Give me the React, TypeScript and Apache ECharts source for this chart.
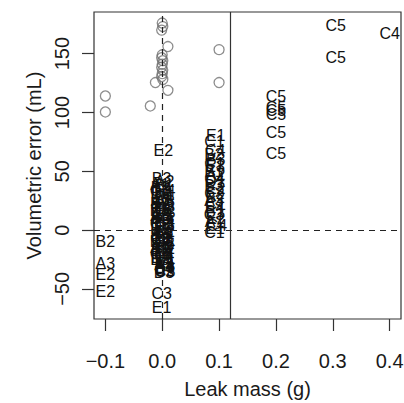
import React, { useEffect, useRef } from "react";
import * as echarts from "echarts";

const xTicks = [-0.1, 0, 0.1, 0.2, 0.3, 0.4];
const yTicks = [-50, 0, 50, 100, 150];
const xRange = [-0.12, 0.42];
const yRange = [-75.6, 185.4];
const thresholdX = 0.1235;

// hollow grey circles
const circleX = [-0.1, -0.1, -0.021, -0.012, 0.01, 0.01, 0, 0.001, -0.001, 0, -0.001, 0.001, 0, -0.001, 0.001, 0, -0.001, 0.001, 0.1, 0.1];
const circleY = [114, 100.4, 105.5, 125.4, 118.8, 156, 176, 173, 170, 149, 146.5, 144, 141, 138.5, 136, 133, 130.5, 128, 153.4, 125.4];

// text labels at x = -0.1
const leftNames = ["B2", "A3", "E2", "E2"];
const leftX = [-0.1, -0.1, -0.1, -0.1];
const leftY = [-10, -28, -38, -52];

// text labels around x = 0
const zeroNames = [
  "E2", "B3", "C3", "E1",
  "A1", "B2", "C1", "D2", "E3", "A2", "B1", "C4", "D1", "E4", "A3", "B3", "C2", "D3", "E1", "A4", "B4", "C3", "D4", "E2", "A1", "B2", "C1", "D2", "E3",
  "A2", "B1", "C4", "D1", "E4", "A3", "B3", "C2", "D3", "E1", "A4", "B4", "C3", "D4", "E2", "A1", "B2", "C1", "D2", "E3", "A2", "B1", "C4", "D1", "E4", "A3", "B3", "C2", "D3", "E1", "A4", "B4", "C3"
];
const zeroX = [
  0.002, -0.001, -0.001, -0.001,
  -0.004, -0.003, -0.004, -0.002, -0.004, -0.003, -0.004, -0.002, -0.004, -0.003, -0.004, -0.002, -0.004, -0.003, -0.004, -0.002, -0.004, -0.003, -0.004, -0.002, -0.004, -0.003, -0.004, -0.002, -0.004,
  0.004, 0.003, 0.005, 0.004, 0.003, 0.005, 0.004, 0.003, 0.005, 0.004, 0.003, 0.005, 0.004, 0.003, 0.005, 0.004, 0.003, 0.005, 0.004, 0.003, 0.005, 0.004, 0.003, 0.005, 0.004, 0.003, 0.005, 0.004, 0.003, 0.005, 0.004, 0.003, 0.005
];
const zeroY = [
  68, 44, -53.5, -66,
  39, 36, 33.5, 31, 27, 25, 22.5, 19, 17, 14, 12, 9.5, 6, 4, 1, -2, -4.5, -7, -10, -12, -15, -17.5, -20, -23, -25,
  41, 37.5, 34, 30, 28, 24, 21, 18.5, 15, 13, 10, 7, 5, 2, -1, -3, -6, -8.5, -11, -14, -16, -19, -21.5, -24, -27, -29, -32, -34.5, -36, -28, -30, -33, -35
];

// text labels around x = 0.1
const tenthNames = ["E1", "C1", "C4", "B2", "B3", "C1", "E3", "B1", "A2", "C4", "D1", "B3", "E2", "C2", "B2", "A3", "C1", "E4", "B1", "C3", "E2", "A1", "C4", "E1", "C1"];
const tenthX = [0.094, 0.092, 0.093, 0.091, 0.094, 0.092, 0.093, 0.091, 0.094, 0.092, 0.093, 0.091, 0.094, 0.092, 0.093, 0.091, 0.094, 0.092, 0.093, 0.091, 0.094, 0.092, 0.096, 0.093, 0.092];
const tenthY = [80.6, 75, 68, 64, 60, 57, 54, 50, 47, 44, 41, 38, 35, 31, 28, 25, 22, 19, 16, 13, 10, 7, 4, 1, -2];

// text labels on the right
const rightNames = ["C5", "C5", "C5", "C5", "C5", "C5", "C5", "C5", "C4"];
const rightX = [0.2, 0.2, 0.2, 0.2, 0.2, 0.2, 0.305, 0.305, 0.4];
const rightY = [113.7, 104.5, 101.5, 98.5, 82.6, 65, 174, 147, 167];

const FONT = "'Liberation Sans', Arial, Helvetica, sans-serif";

export default function App() {
  const ref = useRef<HTMLDivElement>(null);
  useEffect(() => {
    if (!ref.current) return;
    const chart = echarts.init(ref.current, null, { renderer: "svg" });
    const names = [...leftNames, ...zeroNames, ...tenthNames, ...rightNames];
    const xs = [...leftX, ...zeroX, ...tenthX, ...rightX];
    const ys = [...leftY, ...zeroY, ...tenthY, ...rightY];
    const labelData = xs.map((x, i) => [x, ys[i]]);
    const circleData = circleX.map((x, i) => [x, circleY[i]]);
    const fmt = (v: number, d: number) => (v < 0 ? "\u2212" : "") + Math.abs(v).toFixed(d);
    chart.setOption({
      animation: false,
      backgroundColor: "#ffffff",
      textStyle: { fontFamily: FONT },
      grid: {
        left: 94, top: 12, width: 307, height: 307,
        containLabel: false, outerBoundsMode: "none",
        show: true, borderColor: "#333", borderWidth: 1.2, backgroundColor: "transparent",
      },
      xAxis: {
        type: "value",
        position: "bottom",
        min: xRange[0],
        max: xRange[1],
        name: "Leak mass (g)",
        nameLocation: "middle",
        nameGap: 60,
        nameTextStyle: { fontSize: 20, color: "#1a1a1a", fontFamily: FONT },
        axisLine: { show: false, onZero: false },
        axisTick: { show: true, inside: false, length: 12, customValues: xTicks, lineStyle: { color: "#333", width: 1.2 } },
        axisLabel: { customValues: xTicks, formatter: (v: number) => fmt(v, 1), fontSize: 20, color: "#1a1a1a", margin: 32, fontFamily: FONT },
        splitLine: { show: false },
      },
      yAxis: {
        type: "value",
        position: "left",
        min: yRange[0],
        max: yRange[1],
        name: "Volumetric error (mL)",
        nameLocation: "middle",
        nameGap: 50,
        nameTextStyle: { fontSize: 20, color: "#1a1a1a", fontFamily: FONT },
        axisLine: { show: false, onZero: false },
        axisTick: { show: true, inside: false, length: 12, customValues: yTicks, lineStyle: { color: "#333", width: 1.2 } },
        axisLabel: { customValues: yTicks, rotate: 90, formatter: (v: number) => fmt(v, 0), fontSize: 20, color: "#1a1a1a", margin: 22, fontFamily: FONT },
        splitLine: { show: false },
      },
      series: [
        {
          type: "scatter",
          data: circleData,
          symbol: "circle",
          symbolSize: 10,
          itemStyle: { color: "transparent", borderColor: "#707070", borderWidth: 1.3 },
          silent: true,
          markLine: {
            silent: true,
            symbol: "none",
            label: { show: false },
            data: [
              { yAxis: 0, lineStyle: { type: [6, 5], color: "#222", width: 1.2 } },
              { xAxis: 0, lineStyle: { type: [6, 5], color: "#222", width: 1.2 } },
              { xAxis: thresholdX, lineStyle: { type: "solid", color: "#333", width: 1.2 } },
            ],
          },
        },
        {
          type: "custom",
          data: labelData,
          silent: true,
          renderItem: (params: any, api: any) => {
            const p = api.coord([api.value(0), api.value(1)]);
            return {
              type: "text",
              x: p[0],
              y: p[1],
              style: {
                text: names[params.dataIndex],
                fill: "#111",
                fontSize: 16,
                fontFamily: FONT,
                align: "center",
                verticalAlign: "middle",
              },
            };
          },
        },
      ],
    });
    return () => chart.dispose();
  }, []);
  return <div ref={ref} style={{ position: "fixed", left: 0, top: 0, width: 404, height: 403, background: "#fff" }} />;
}
